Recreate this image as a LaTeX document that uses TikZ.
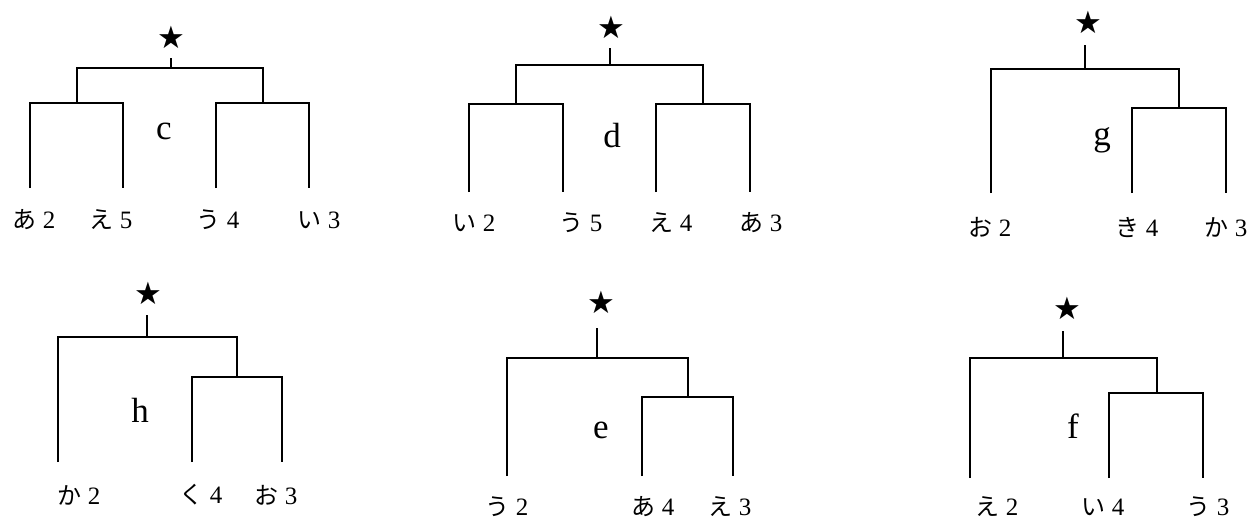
\documentclass[tikz,border=0pt]{standalone}
\usepackage{fontspec}
\setmainfont{Liberation Serif}
\newfontfamily\jp{Noto Sans CJK JP}
\newfontfamily\symf{DejaVu Sans}
\newcommand\lf[2]{{\jp\fontsize{24}{24}\selectfont #1}\hspace{6pt}#2}
\begin{document}
\begin{tikzpicture}[x=1pt,y=-1pt,
  branch/.style={line width=1.1pt,black},
  leaflabel/.style={inner sep=0pt,font=\fontsize{25}{25}\selectfont},
  clusterletter/.style={inner sep=0pt,font=\fontsize{35}{35}\selectfont},
  starmark/.style={inner sep=0pt,font=\symf\fontsize{31}{31}\selectfont}]
\useasboundingbox (0,0) rectangle (1252,522);

% ---------- tree c ----------
\coordinate (c1) at (30,188); \coordinate (c2) at (123,188);
\coordinate (c3) at (216,188); \coordinate (c4) at (309,188);
\coordinate (cA) at (77,103); \coordinate (cB) at (263,103);
\coordinate (cR) at (171,68); \coordinate (cT) at (171,58);
\draw[branch] (c1) |- (cA) -| (c2);
\draw[branch] (c3) |- (cB) -| (c4);
\draw[branch] (cA) |- (cR) -| (cB);
\draw[branch] (cR) -- (cT);
\node[starmark] (cS) at (171,37) {★};
\node[clusterletter] (cL) at (164,131) {c};
\node[leaflabel] (cl1) at (34,220) {\lf{あ}{2}};
\node[leaflabel] (cl2) at (111,220) {\lf{え}{5}};
\node[leaflabel] (cl3) at (218,220) {\lf{う}{4}};
\node[leaflabel] (cl4) at (319,220) {\lf{い}{3}};

% ---------- tree d ----------
\coordinate (d1) at (469,192); \coordinate (d2) at (563,192);
\coordinate (d3) at (656,192); \coordinate (d4) at (750,192);
\coordinate (dA) at (516,104); \coordinate (dB) at (703,104);
\coordinate (dR) at (610,65); \coordinate (dT) at (610,48);
\draw[branch] (d1) |- (dA) -| (d2);
\draw[branch] (d3) |- (dB) -| (d4);
\draw[branch] (dA) |- (dR) -| (dB);
\draw[branch] (dR) -- (dT);
\node[starmark] (dS) at (611,27) {★};
\node[clusterletter] (dL) at (612,136) {d};
\node[leaflabel] (dl1) at (474,223) {\lf{い}{2}};
\node[leaflabel] (dl2) at (581,223) {\lf{う}{5}};
\node[leaflabel] (dl3) at (671,223) {\lf{え}{4}};
\node[leaflabel] (dl4) at (761,223) {\lf{あ}{3}};

% ---------- tree g ----------
\coordinate (g1) at (991,193); \coordinate (g2) at (1132,193);
\coordinate (g3) at (1226,193);
\coordinate (gB) at (1179,108);
\coordinate (gR) at (1085,69); \coordinate (gT) at (1085,45);
\draw[branch] (g2) |- (gB) -| (g3);
\draw[branch] (g1) |- (gR) -| (gB);
\draw[branch] (gR) -- (gT);
\node[starmark] (gS) at (1088,22) {★};
\node[clusterletter] (gL) at (1102,140) {g};
\node[leaflabel] (gl1) at (990,227) {\lf{お}{2}};
\node[leaflabel] (gl2) at (1137,227) {\lf{き}{4}};
\node[leaflabel] (gl3) at (1226,227) {\lf{か}{3}};

% ---------- tree h ----------
\coordinate (h1) at (58,462); \coordinate (h2) at (192,462);
\coordinate (h3) at (282,462);
\coordinate (hB) at (237,377);
\coordinate (hR) at (147,337); \coordinate (hT) at (147,315);
\draw[branch] (h2) |- (hB) -| (h3);
\draw[branch] (h1) |- (hR) -| (hB);
\draw[branch] (hR) -- (hT);
\node[starmark] (hS) at (148,293) {★};
\node[clusterletter] (hL) at (140,410) {h};
\node[leaflabel] (hl1) at (79,495) {\lf{か}{2}};
\node[leaflabel] (hl2) at (201,495) {\lf{く}{4}};
\node[leaflabel] (hl3) at (276,495) {\lf{お}{3}};

% ---------- tree e ----------
\coordinate (e1) at (507,476); \coordinate (e2) at (642,476);
\coordinate (e3) at (733,476);
\coordinate (eB) at (688,397);
\coordinate (eR) at (597,358); \coordinate (eT) at (597,328);
\draw[branch] (e2) |- (eB) -| (e3);
\draw[branch] (e1) |- (eR) -| (eB);
\draw[branch] (eR) -- (eT);
\node[starmark] (eS) at (601,302) {★};
\node[clusterletter] (eL) at (601,430) {e};
\node[leaflabel] (el1) at (507,507) {\lf{う}{2}};
\node[leaflabel] (el2) at (653,507) {\lf{あ}{4}};
\node[leaflabel] (el3) at (730,507) {\lf{え}{3}};

% ---------- tree f ----------
\coordinate (f1) at (970,478); \coordinate (f2) at (1109,478);
\coordinate (f3) at (1203,478);
\coordinate (fB) at (1157,393);
\coordinate (fR) at (1063,358); \coordinate (fT) at (1063,331);
\draw[branch] (f2) |- (fB) -| (f3);
\draw[branch] (f1) |- (fR) -| (fB);
\draw[branch] (fR) -- (fT);
\node[starmark] (fS) at (1067,308) {★};
\node[clusterletter] (fL) at (1073,426) {f};
\node[leaflabel] (fl1) at (997,507) {\lf{え}{2}};
\node[leaflabel] (fl2) at (1103,507) {\lf{い}{4}};
\node[leaflabel] (fl3) at (1208,507) {\lf{う}{3}};
\end{tikzpicture}
\end{document}
